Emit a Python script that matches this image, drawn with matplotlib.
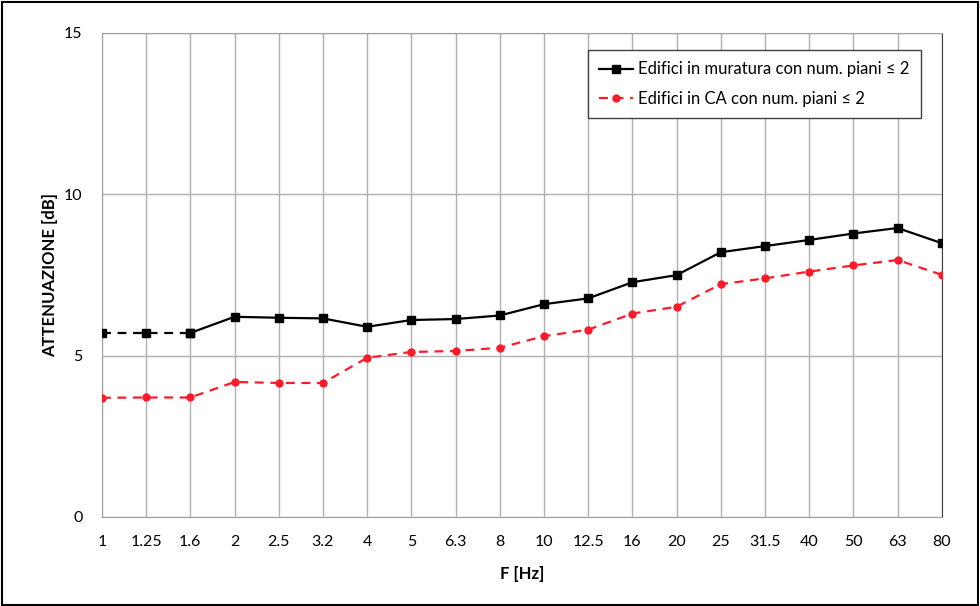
import matplotlib.pyplot as plt
from matplotlib.patches import Rectangle

plt.rcParams['font.family'] = ['Lato', 'DejaVu Sans']

freq = ['1', '1.25', '1.6', '2', '2.5', '3.2', '4', '5', '6.3', '8', '10',
        '12.5', '16', '20', '25', '31.5', '40', '50', '63', '80']
muratura = [5.7, 5.7, 5.7, 6.2, 6.17, 6.15, 5.89, 6.1, 6.13, 6.24, 6.59,
            6.77, 7.27, 7.49, 8.2, 8.39, 8.58, 8.78, 8.95, 8.48]
ca = [3.69, 3.7, 3.7, 4.18, 4.15, 4.15, 4.93, 5.11, 5.14, 5.24, 5.6,
      5.8, 6.3, 6.51, 7.21, 7.39, 7.6, 7.79, 7.96, 7.5]
n_extrap = 3  # first points of the masonry series drawn dashed

fig = plt.figure(figsize=(9.8, 6.06), dpi=100)
ax = fig.add_axes([0.104, 0.147, 0.857, 0.799])
fig.patches.append(Rectangle((0.002, 0.002), 0.996, 0.995, transform=fig.transFigure,
                             fill=False, edgecolor='black', linewidth=1.5))

x = list(range(len(freq)))

ax.plot(x[:n_extrap], muratura[:n_extrap], color='black', linestyle=(0, (4, 3)),
        linewidth=1.6, marker='s', markersize=6, zorder=3)
ax.plot(x[n_extrap - 1:], muratura[n_extrap - 1:], color='black', linewidth=1.6,
        marker='s', markersize=6, zorder=3,
        label='Edifici in muratura con num. piani ≤ 2')
ax.plot(x, ca, color='#ff1a2a', linestyle=(0, (4, 3)), linewidth=1.6,
        marker='o', markersize=5, zorder=3,
        label='Edifici in CA con num. piani ≤ 2')

ax.set_xlim(0, len(freq) - 1)
ax.set_ylim(0, 15)
ax.set_xticks(x)
ax.set_xticklabels(freq)
ax.set_yticks([0, 5, 10, 15])
ax.tick_params(length=0, labelsize=11.5, pad=13)
ax.tick_params(axis='y', pad=14)
ax.grid(True, color='#b0b0b0', linewidth=1)
for s in ['left', 'top', 'bottom']:
    ax.spines[s].set_color('#a0a0a0')
ax.spines['right'].set_color('#404040')

ax.set_xlabel('F [Hz]', fontsize=12, fontweight='bold', labelpad=12)
ax.set_ylabel('ATTENUAZIONE [dB]', fontsize=12, fontweight='bold', labelpad=4)

leg = ax.legend(loc='upper right', bbox_to_anchor=(0.985, 0.982), fontsize=12,
                frameon=True, fancybox=False, handlelength=2.0, handletextpad=0.3,
                labelspacing=0.8, borderpad=0.7)
leg.get_frame().set_edgecolor('#404040')
leg.get_frame().set_linewidth(1)
leg.get_frame().set_alpha(1)

fig.savefig('out.png', dpi=100)
